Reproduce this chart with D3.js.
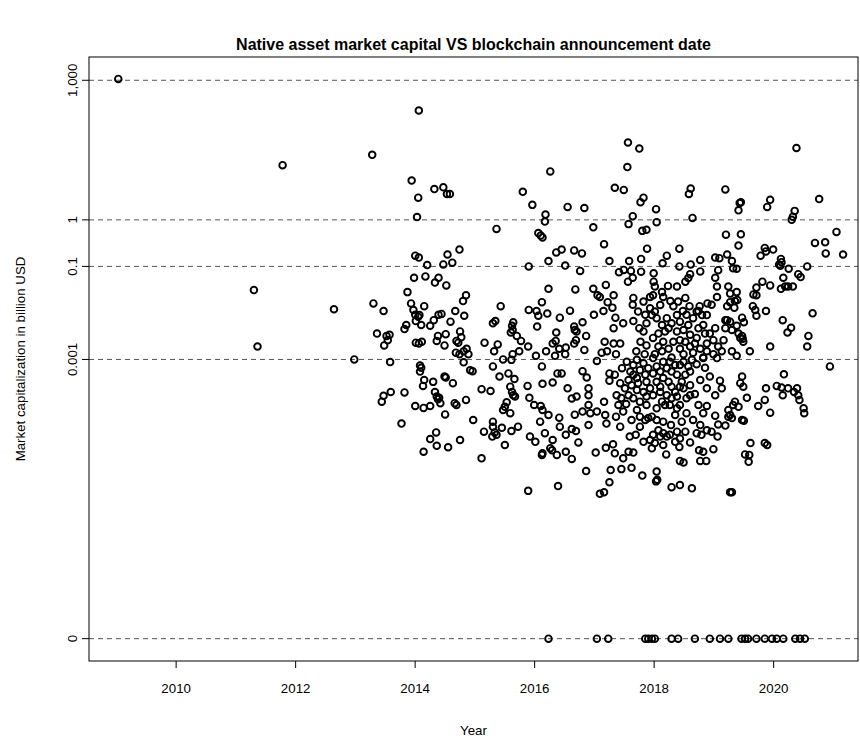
<!DOCTYPE html>
<html>
<head>
<meta charset="utf-8">
<script src="https://cdn.jsdelivr.net/npm/d3@7"></script>
<style>
  body { margin: 0; background: #fff; }
  svg text { font-family: "Liberation Sans", Arial, Helvetica, sans-serif; fill: #000; }
</style>
</head>
<body>
<div id="container"></div>
<script>
/* CONSTANTS AND GLOBALS */
const width = 860,
  height = 740,
  margin = { top: 57, bottom: 79, left: 89, right: 2 };

// DATA - [announcement year, market cap in billion USD]
const capByYear = [
  // 2009 - 2013
  [2009.04, 1070], [2011.79, 15], [2011.31, 0.031], [2012.65, 0.012], [2011.37, 0.0019], [2012.99, 0.001],
  [2013.29, 25], [2014.07, 224], [2013.95, 7], [2014.06, 3], [2014.33, 4.6], [2014.48, 5], [2014.54, 3.6],
  [2014.59, 3.6], [2014.04, 1.15], [2015.81, 4], [2016.27, 11], [2015.97, 2.1], [2016.19, 1.3], [2016.56, 1.9],
  [2016.84, 1.8], [2017.57, 46], [2017.76, 34], [2017.56, 13.6], [2017.35, 4.9], [2017.50, 4.4], [2017.83, 3],
  [2017.78, 2.4], [2018.04, 1.7], [2017.65, 1.2], [2018.62, 4.7], [2018.59, 3.6], [2018.65, 1.1], [2019.2, 4.5],
  [2019.46, 2.4], [2019.44, 2.3], [2019.42, 1.6], [2019.95, 2.7], [2019.90, 1.9], [2020.39, 35], [2020.36, 1.56],
  [2020.33, 1.17], [2020.77, 2.8],
  // 2013 - 2015 above 0.001
  [2014.01, 0.17], [2014.07, 0.155], [2014.21, 0.107], [2014.55, 0.18], [2014.75, 0.23], [2014.48, 0.11],
  [2014.63, 0.12], [2013.99, 0.057], [2014.18, 0.061], [2014.40, 0.057], [2014.34, 0.045], [2014.53, 0.039],
  [2013.88, 0.028], [2013.31, 0.016], [2013.48, 0.011], [2013.94, 0.016], [2014.16, 0.014], [2013.98, 0.0115],
  [2014.01, 0.0091], [2014.06, 0.0083], [2014.08, 0.009], [2014.02, 0.0067], [2014.11, 0.0055], [2013.86, 0.0055],
  [2013.83, 0.0045], [2014.26, 0.0053], [2014.32, 0.007], [2014.40, 0.0091], [2014.45, 0.0095], [2014.60, 0.0065],
  [2014.68, 0.011], [2014.83, 0.0087], [2014.81, 0.018], [2014.86, 0.024], [2013.37, 0.0036], [2013.53, 0.0032],
  [2013.58, 0.0034], [2013.49, 0.002], [2013.55, 0.0026], [2014.02, 0.0023], [2014.07, 0.0022], [2014.12, 0.0024],
  [2014.37, 0.0025], [2014.52, 0.0035], [2014.39, 0.0032], [2014.50, 0.002], [2014.76, 0.004], [2014.78, 0.003],
  [2014.73, 0.0023], [2014.70, 0.0025], [2014.69, 0.0014], [2014.75, 0.0013], [2014.82, 0.0015], [2014.87, 0.0017],
  [2014.90, 0.0013], [2013.59, 0.00088],
  // 2015 - 2017 above 0.001
  [2015.37, 0.64], [2016.07, 0.52], [2016.11, 0.46], [2016.14, 0.42], [2016.18, 0.92], [2016.99, 0.69],
  [2016.37, 0.2], [2016.46, 0.23], [2016.67, 0.22], [2016.80, 0.19], [2016.24, 0.13], [2015.91, 0.1],
  [2016.52, 0.104], [2016.77, 0.08], [2016.24, 0.033], [2016.69, 0.032], [2016.99, 0.033], [2017.06, 0.024],
  [2016.13, 0.017], [2015.44, 0.014], [2015.91, 0.0116], [2016.04, 0.011], [2016.07, 0.0087], [2016.22, 0.0097],
  [2016.60, 0.0112], [2016.43, 0.0079], [2017.0, 0.0091], [2015.31, 0.006], [2015.35, 0.0067], [2015.65, 0.0063],
  [2015.63, 0.0053], [2015.64, 0.0043], [2015.61, 0.0038], [2016.05, 0.0051], [2016.81, 0.0063], [2016.67, 0.0051],
  [2016.68, 0.0043], [2016.71, 0.004], [2016.37, 0.0038], [2015.71, 0.0032], [2015.78, 0.0025], [2015.17, 0.0023],
  [2015.39, 0.0021], [2015.90, 0.0019], [2016.31, 0.0022], [2016.36, 0.0025], [2016.70, 0.0026], [2016.87, 0.0032],
  [2016.42, 0.0017], [2016.53, 0.0018], [2016.67, 0.0022], [2015.33, 0.0015], [2015.75, 0.0015], [2015.64, 0.0013],
  [2015.48, 0.001], [2016.03, 0.0012], [2016.20, 0.0015], [2016.35, 0.0012], [2016.52, 0.0013], [2016.84, 0.0016],
  // 2017 - 2019 above 0.001
  [2017.58, 0.81], [2018.05, 0.89], [2017.81, 0.58], [2017.88, 0.61], [2019.21, 0.48], [2017.17, 0.3],
  [2017.89, 0.24], [2018.43, 0.24], [2018.22, 0.17], [2017.26, 0.13], [2017.59, 0.13], [2017.79, 0.145],
  [2018.15, 0.117], [2018.43, 0.1], [2018.62, 0.11], [2018.78, 0.138], [2019.03, 0.155], [2019.10, 0.15],
  [2019.23, 0.18], [2017.42, 0.075], [2017.50, 0.084], [2017.62, 0.08], [2017.79, 0.077], [2018.0, 0.071],
  [2017.57, 0.047], [2017.65, 0.057], [2017.20, 0.04], [2018.0, 0.047], [2018.02, 0.037], [2018.24, 0.038],
  [2018.39, 0.037], [2018.53, 0.047], [2018.58, 0.056], [2018.61, 0.068], [2018.78, 0.078], [2019.03, 0.057],
  [2019.08, 0.083], [2019.06, 0.037], [2019.25, 0.037], [2017.33, 0.024], [2017.23, 0.017], [2017.10, 0.022],
  [2017.31, 0.013], [2017.66, 0.021], [2017.65, 0.015], [2017.94, 0.022], [2017.99, 0.024], [2018.14, 0.028],
  [2018.16, 0.022], [2018.28, 0.018], [2018.33, 0.014], [2018.49, 0.011], [2018.53, 0.021], [2018.60, 0.014],
  [2018.77, 0.014], [2018.75, 0.011], [2018.81, 0.009], [2018.90, 0.016], [2018.97, 0.015], [2019.06, 0.022],
  [2019.23, 0.014], [2019.20, 0.007], [2017.16, 0.011], [2017.36, 0.0079], [2017.33, 0.0047], [2017.49, 0.006],
  [2017.18, 0.0024], [2017.33, 0.0022], [2017.44, 0.0022], [2017.22, 0.0015], [2017.13, 0.0014], [2017.37, 0.0013],
  [2017.66, 0.0067], [2017.76, 0.0047], [2017.83, 0.004], [2017.88, 0.006], [2017.97, 0.009], [2018.02, 0.0107],
  [2017.94, 0.0126], [2018.05, 0.0077], [2018.14, 0.0055], [2018.22, 0.0077], [2018.25, 0.0047], [2018.30, 0.006],
  [2018.39, 0.009], [2018.44, 0.0065], [2018.50, 0.0043], [2018.58, 0.0055], [2018.66, 0.0077], [2018.72, 0.0107],
  [2018.75, 0.0047], [2018.83, 0.0055], [2018.89, 0.009], [2018.94, 0.0036], [2017.78, 0.0024], [2017.88, 0.002],
  [2017.99, 0.0029], [2018.08, 0.0019], [2018.16, 0.0024], [2018.25, 0.0017], [2018.33, 0.0024], [2018.44, 0.0017],
  [2018.53, 0.0024], [2018.61, 0.0019], [2018.72, 0.0029], [2018.78, 0.0017], [2018.89, 0.0022], [2019.0, 0.0026],
  [2019.08, 0.0019], [2019.17, 0.0026], [2019.20, 0.0047], [2019.23, 0.007], [2017.71, 0.0015], [2017.85, 0.0013],
  [2018.02, 0.0013], [2018.14, 0.0015], [2018.30, 0.0011], [2018.50, 0.0013], [2018.66, 0.0014], [2018.83, 0.0011],
  [2019.0, 0.0013], [2019.14, 0.0015],
  [2017.74, 0.0107], [2017.86, 0.0091], [2018.11, 0.0148], [2018.19, 0.004], [2018.39, 0.004], [2018.55, 0.0091],
  [2018.61, 0.0034], [2018.86, 0.0036], [2019.03, 0.0047], [2018.41, 0.0175], [2017.83, 0.0175], [2018.08, 0.0036],
  [2018.69, 0.0022], [2018.89, 0.0015], [2018.44, 0.0026],
  // 2019 - 2021 above 0.001
  [2020.31, 1.0], [2019.46, 0.49], [2019.42, 0.28], [2019.86, 0.25], [2019.88, 0.21], [2020.0, 0.23],
  [2019.79, 0.17], [2020.70, 0.32], [2020.87, 0.33], [2021.06, 0.55], [2020.88, 0.19], [2021.17, 0.18],
  [2019.31, 0.13], [2019.33, 0.091], [2019.39, 0.089], [2020.13, 0.145], [2020.14, 0.123], [2020.10, 0.11],
  [2020.12, 0.103], [2020.26, 0.089], [2020.57, 0.1], [2020.17, 0.057], [2020.42, 0.068], [2020.46, 0.059],
  [2019.82, 0.047], [2019.72, 0.035], [2019.95, 0.039], [2020.13, 0.033], [2020.20, 0.037], [2020.25, 0.037],
  [2020.33, 0.037], [2019.67, 0.025], [2019.72, 0.024], [2019.39, 0.028], [2019.28, 0.026], [2019.36, 0.018],
  [2019.40, 0.019], [2019.28, 0.017], [2019.35, 0.013], [2019.66, 0.014], [2019.70, 0.0116], [2019.72, 0.0087],
  [2019.88, 0.011], [2020.66, 0.0098], [2020.16, 0.007], [2020.30, 0.0048], [2020.24, 0.0038], [2019.48, 0.0079],
  [2019.51, 0.0063], [2019.39, 0.0053], [2019.28, 0.0065], [2019.31, 0.0043], [2019.42, 0.0036], [2019.48, 0.0032],
  [2019.49, 0.0028], [2019.50, 0.0024], [2019.45, 0.0029], [2020.59, 0.0032], [2020.57, 0.0019], [2019.95, 0.0019],
  [2019.61, 0.0015], [2019.31, 0.0015], [2019.39, 0.0012],
  // 2013 - 2015 below 0.001
  [2014.09, 0.00074], [2014.11, 0.00066], [2014.09, 0.00055], [2014.16, 0.00036], [2014.14, 0.00027],
  [2014.31, 0.00033], [2014.50, 0.00043], [2014.52, 0.00041], [2014.64, 0.00031], [2014.82, 0.00087],
  [2014.93, 0.00059], [2013.48, 0.000166], [2013.60, 0.0002], [2013.45, 0.000124], [2013.83, 0.000196],
  [2014.34, 0.0002], [2014.37, 0.00016], [2014.41, 0.00015], [2014.39, 0.00014], [2014.43, 0.000115],
  [2014.01, 0.0001], [2014.15, 0.000091], [2014.26, 0.0001], [2014.67, 0.000115], [2014.70, 0.000105],
  [2014.86, 0.000135], [2014.51, 0.000066], [2013.78, 0.000042], [2014.36, 0.000027], [2014.26, 0.0000195],
  [2014.37, 0.000014], [2014.56, 0.000013], [2014.76, 0.0000186], [2014.15, 0.0000104],
  // 2015 - 2017 below 0.001
  [2015.62, 0.00098], [2017.05, 0.00093], [2014.97, 0.00056], [2015.31, 0.00071], [2015.42, 0.00043],
  [2015.57, 0.0005], [2015.67, 0.00038], [2016.13, 0.00071], [2016.14, 0.0003], [2016.31, 0.00032],
  [2016.39, 0.0005], [2016.46, 0.0005], [2016.81, 0.00056], [2016.88, 0.00041], [2015.12, 0.00023],
  [2015.27, 0.00021], [2015.60, 0.00026], [2015.63, 0.0002], [2015.65, 0.00017], [2015.68, 0.00016],
  [2015.54, 0.00012], [2015.51, 0.000096], [2015.60, 0.00007], [2015.48, 0.000082], [2015.89, 0.00027],
  [2015.92, 0.00015], [2016.0, 0.000105], [2016.11, 0.0001], [2016.14, 0.000082], [2016.24, 0.000064],
  [2016.10, 0.000046], [2016.56, 0.00024], [2016.63, 0.000145], [2016.71, 0.00016], [2016.91, 0.00024],
  [2016.91, 0.00017], [2016.91, 0.000105], [2016.81, 0.000076], [2016.94, 0.00007], [2017.05, 0.000076],
  [2016.91, 0.000039], [2016.68, 0.000065], [2016.42, 0.000056], [2016.43, 0.000036], [2014.98, 0.00005],
  [2015.16, 0.000028], [2015.31, 0.000046], [2015.31, 0.000036], [2015.34, 0.000027], [2015.30, 0.000022],
  [2015.37, 0.000024], [2015.46, 0.000034], [2015.51, 0.0000145], [2015.62, 0.000029], [2015.73, 0.000036],
  [2015.93, 0.000022], [2016.02, 0.000017], [2016.18, 0.000026], [2016.31, 0.0000186], [2016.27, 0.0000124],
  [2016.13, 0.0000089], [2016.14, 0.0000096], [2016.38, 0.0000089], [2016.53, 0.000024], [2016.63, 0.000032],
  [2016.70, 0.000029], [2016.74, 0.0000165], [2016.53, 0.0000104], [2016.63, 0.0000073], [2016.30, 0.0000112],
  [2017.03, 0.00001], [2015.12, 0.0000075], [2016.87, 0.000004], [2015.90, 0.0000015], [2016.40, 0.0000019],
  [2017.10, 0.0000013],
  // 2017 - 2019 below 0.001
  [2017.26, 0.0005], [2017.26, 0.00035], [2017.17, 0.000123], [2017.19, 0.000064], [2017.21, 0.000042],
  [2017.37, 0.000059], [2017.41, 0.000105], [2017.44, 0.000036], [2017.46, 0.000148], [2017.54, 0.00011],
  [2017.20, 0.0000126], [2017.32, 0.000015], [2017.35, 0.0000096], [2017.49, 0.0000075], [2017.58, 0.0000104],
  [2017.66, 0.00001], [2017.70, 0.000024], [2017.60, 0.000022], [2017.28, 0.0000042], [2017.46, 0.0000044],
  [2017.63, 0.0000047], [2017.26, 0.0000023], [2017.17, 0.0000014], [2017.81, 0.0000032], [2018.05, 0.0000039],
  [2018.06, 0.0000026], [2018.04, 0.0000024], [2018.30, 0.0000018], [2018.44, 0.000002], [2018.64, 0.0000017],
  [2018.50, 0.0000061], [2018.44, 0.0000066], [2018.78, 0.0000066], [2018.88, 0.0000066], [2018.21, 0.0000091],
  [2018.43, 0.0000132], [2018.61, 0.0000165], [2018.76, 0.0000112], [2018.83, 0.0000104], [2019.0, 0.0000118],
  [2019.07, 0.000022], [2018.97, 0.000028], [2018.89, 0.00003], [2018.80, 0.000024], [2018.72, 0.000026],
  [2019.20, 0.000038], [2019.03, 0.000062], [2018.89, 0.0001], [2018.83, 0.00007], [2019.08, 0.00004],
  [2019.25, 0.000059], [2019.14, 0.00024], [2019.11, 0.00035], [2018.94, 0.00043], [2018.86, 0.00066],
  [2018.72, 0.00079], [2018.78, 0.00036], [2018.61, 0.00028], [2018.50, 0.00024], [2018.69, 0.00018],
  [2018.55, 0.000147], [2018.44, 0.000105], [2018.55, 0.00007], [2018.36, 0.000064], [2018.29, 0.000039],
  [2018.16, 0.000046], [2018.16, 0.000026], [2018.11, 0.000022], [2018.22, 0.000022], [2018.39, 0.000028],
  [2017.99, 0.000024], [2018.02, 0.000016], [2017.94, 0.0000186], [2017.83, 0.000017], [2017.77, 0.000036],
  [2017.63, 0.00005], [2017.77, 0.000059], [2017.91, 0.000055], [2017.97, 0.000059], [2018.05, 0.000089],
  [2018.14, 0.000124], [2018.22, 0.00017], [2018.30, 0.00026], [2018.39, 0.00047], [2018.44, 0.00076],
  [2018.27, 0.00089], [2018.16, 0.00089], [2018.05, 0.00071], [2017.91, 0.00065], [2017.77, 0.00059],
  [2017.66, 0.00076], [2017.66, 0.00047], [2017.63, 0.00028], [2017.72, 0.00022], [2017.83, 0.0002],
  [2017.94, 0.00024], [2018.05, 0.00033], [2018.16, 0.0004], [2018.30, 0.00055], [2017.52, 0.00024],
  [2017.58, 0.00017], [2017.49, 0.000076], [2017.38, 0.00017], [2017.88, 0.000105], [2017.77, 0.000124],
  [2017.88, 0.00016], [2018.27, 0.000105], [2018.39, 0.00016], [2018.53, 0.00047], [2018.61, 0.00055],
  [2018.89, 0.00024], [2019.03, 0.00017], [2019.25, 0.000082], [2019.06, 0.00107], [2018.64, 0.00098],
  [2018.83, 0.00107], [2018.44, 0.00026], [2019.28, 0.0000014],
  [2017.55, 0.00089], [2017.72, 0.00098], [2017.83, 0.00083], [2017.99, 0.00107], [2018.11, 0.00055],
  [2018.22, 0.00065], [2018.36, 0.00076], [2018.50, 0.00089], [2018.58, 0.00071], [2017.61, 0.00055],
  [2017.72, 0.0004], [2017.86, 0.00047], [2017.99, 0.0005], [2018.11, 0.00026], [2018.25, 0.00033],
  [2018.36, 0.0002], [2018.47, 0.00033], [2017.74, 0.00031], [2017.88, 0.00033], [2017.99, 0.00017],
  [2018.11, 0.0002], [2018.19, 0.000105], [2018.30, 0.000147], [2018.39, 0.000089], [2018.47, 0.000046],
  [2018.05, 0.00005], [2017.86, 0.00005], [2017.72, 0.000082], [2017.66, 0.000147], [2017.58, 0.00036],
  [2017.44, 0.00031], [2017.47, 0.00065], [2017.35, 0.00047], [2018.61, 0.00017], [2018.75, 0.000105],
  [2018.66, 0.00005], [2018.78, 0.000039], [2018.53, 0.000028], [2018.36, 0.000017], [2018.16, 0.0000145],
  [2017.97, 0.0000123], [2018.08, 0.00003], [2018.44, 0.00002], [2018.27, 0.000024],
  // 2019 - 2021 below 0.001
  [2020.95, 0.00071], [2019.48, 0.00043], [2019.45, 0.00031], [2019.50, 0.00026], [2019.36, 0.000124],
  [2019.33, 0.000105], [2019.42, 0.000096], [2019.28, 0.000064], [2019.31, 0.000055], [2019.56, 0.00015],
  [2019.48, 0.00005], [2019.51, 0.000048], [2019.88, 0.00024], [2019.86, 0.000135], [2019.75, 0.0001],
  [2019.95, 0.000072], [2020.18, 0.00048], [2020.06, 0.00027], [2020.14, 0.00025], [2020.25, 0.00024],
  [2020.16, 0.00017], [2020.35, 0.0002], [2020.40, 0.00024], [2020.42, 0.00017], [2020.44, 0.000135],
  [2020.51, 0.000089], [2020.52, 0.00007], [2019.62, 0.000016], [2019.86, 0.000016], [2019.90, 0.0000145],
  [2019.53, 0.0000091], [2019.60, 0.0000089], [2019.59, 0.0000063], [2019.31, 0.0000014]
];

// chains whose native asset has no market cap (plotted on the "0" line)
const zeroCapYears = [2016.24, 2017.05, 2017.24, 2017.86, 2017.91, 2017.97, 2018.02, 2018.3, 2018.41,
  2018.69, 2018.94, 2019.11, 2019.25, 2019.47, 2019.53, 2019.58, 2019.72, 2019.86, 2019.98, 2020.06,
  2020.17, 2020.37, 2020.45, 2020.53];

const yTickValues = [1000, 1, 0.1, 0.001, 0];
const yTickLabels = ["1,000", "1", "0.1", "0.001", "0"];
const xTickValues = [2010, 2012, 2014, 2016, 2018, 2020];

// zero can't live on a log axis, so it sits at this floor
const zeroFloor = 1e-9;

const points = capByYear.map(d => ({ year: d[0], cap: d[1] }))
  .concat(zeroCapYears.map(y => ({ year: y, cap: 0 })));

const fontSize = 13.3;

// APPEND SVG
const svg = d3.select("#container")
  .append("svg")
  .attr("width", width)
  .attr("height", height);

// SCALES
const xScale = d3.scaleLinear()
  .domain([2008.55, 2021.42])
  .range([margin.left, width - margin.right]);

const yScale = d3.scaleLog()
  .domain([Math.pow(10, -9.48), Math.pow(10, 3.5)])
  .range([height - margin.bottom, margin.top]);

const yPos = v => yScale(v === 0 ? zeroFloor : v);

// DASHED REFERENCE LINES
svg.selectAll("line.grid")
  .data(yTickValues)
  .join("line")
  .attr("class", "grid")
  .attr("x1", margin.left)
  .attr("x2", width - margin.right)
  .attr("y1", d => yPos(d))
  .attr("y2", d => yPos(d))
  .attr("stroke", "#555")
  .attr("stroke-width", 1)
  .attr("stroke-dasharray", "5,4");

// AXES
const xAxis = d3.axisBottom(xScale)
  .tickValues(xTickValues)
  .tickFormat(d3.format("d"))
  .tickSize(7)
  .tickPadding(16);

svg.append("g")
  .attr("transform", `translate(0,${height - margin.bottom})`)
  .call(xAxis)
  .call(g => g.select(".domain").remove())
  .call(g => g.selectAll("text").attr("font-size", fontSize).attr("font-family", null));

const yAxis = svg.append("g");
yAxis.selectAll("line")
  .data(yTickValues)
  .join("line")
  .attr("x1", margin.left - 7)
  .attr("x2", margin.left)
  .attr("y1", d => yPos(d))
  .attr("y2", d => yPos(d))
  .attr("stroke", "#000");

yAxis.selectAll("text")
  .data(yTickValues)
  .join("text")
  .attr("transform", d => `translate(${margin.left - 12},${yPos(d)}) rotate(-90)`)
  .attr("text-anchor", "middle")
  .attr("font-size", fontSize)
  .text((d, i) => yTickLabels[i]);

// PLOT BOX
svg.append("rect")
  .attr("x", margin.left)
  .attr("y", margin.top)
  .attr("width", width - margin.left - margin.right)
  .attr("height", height - margin.top - margin.bottom)
  .attr("fill", "none")
  .attr("stroke", "#000");

// POINTS
svg.selectAll("circle.coin")
  .data(points)
  .join("circle")
  .attr("class", "coin")
  .attr("cx", d => xScale(d.year))
  .attr("cy", d => yPos(d.cap))
  .attr("r", 3.3)
  .attr("fill", "none")
  .attr("stroke", "#000")
  .attr("stroke-width", 1.9);

// TITLES
svg.append("text")
  .attr("x", (margin.left + width - margin.right) / 2)
  .attr("y", 50)
  .attr("text-anchor", "middle")
  .attr("font-size", 16)
  .attr("font-weight", "bold")
  .text("Native asset market capital VS blockchain announcement date");

svg.append("text")
  .attr("x", (margin.left + width - margin.right) / 2)
  .attr("y", 735)
  .attr("text-anchor", "middle")
  .attr("font-size", fontSize)
  .text("Year");

svg.append("text")
  .attr("transform", `translate(25,${(margin.top + height - margin.bottom) / 2}) rotate(-90)`)
  .attr("text-anchor", "middle")
  .attr("font-size", fontSize)
  .text("Market capitalization in billion USD");
</script>
</body>
</html>
